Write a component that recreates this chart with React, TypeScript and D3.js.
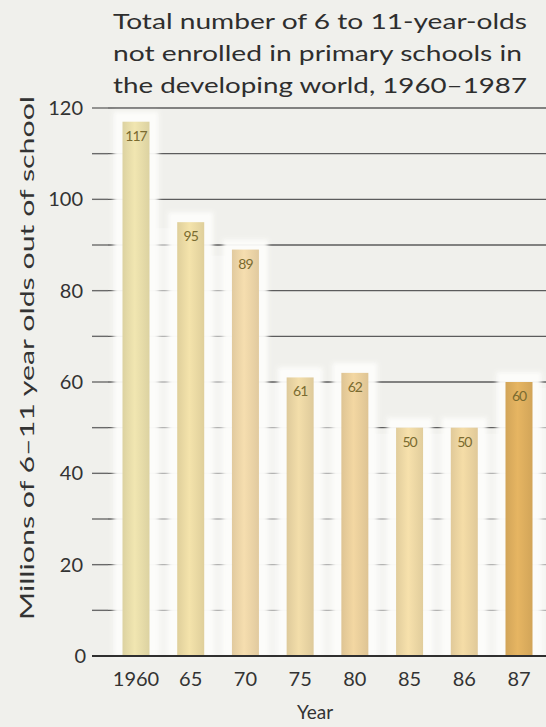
import React from 'react';
import * as d3 from 'd3';

// Children aged 6–11 not enrolled in primary school, developing world (millions)
const years = ['1960', '65', '70', '75', '80', '85', '86', '87'];
const outOfSchool = [117, 95, 89, 61, 62, 50, 50, 60];
const yTicks = [0, 20, 40, 60, 80, 100, 120];
const gridValues = [10, 20, 30, 40, 50, 60, 70, 80, 90, 100, 110, 120];
const barColors = ['#e2d8a6', '#e5d5a0', '#e7d0a4', '#e4d09f', '#e4ca98', '#e8d3a1', '#e6cf9d', '#d8aa5c'];
const titleLines = [
  'Total number of 6 to 11-year-olds',
  'not enrolled in primary schools in',
  'the developing world, 1960\u20131987',
];

const W = 546;
const H = 727;
const FONT = 'Lato, "Noto Sans", sans-serif';

export default function App() {
  const x = d3.scalePoint<string>().domain(years).range([136, 519]);
  const y = d3.scaleLinear().domain([0, 120]).range([656, 108]);
  const barW = 27;
  const halo = 9;
  const step = x.step();

  // pale strip between neighbouring bars, up to the lower of the two tops
  const gaps = years.map((yr, i) => {
    const right = i < years.length - 1 ? outOfSchool[i + 1] : outOfSchool[i];
    return { x: x(yr)! + barW / 2, top: y(Math.min(outOfSchool[i], right)) };
  });

  return (
    <svg
      width={W}
      height={H}
      viewBox={`0 0 ${W} ${H}`}
      style={{ position: 'absolute', left: 0, top: 0, display: 'block' }}
    >
      <defs>
        <filter id="glow" x="-50%" y="-10%" width="200%" height="120%">
          <feGaussianBlur stdDeviation="2.2" />
        </filter>
        {barColors.map((c, i) => {
          const lighter = d3.color(c)!.brighter(0.18).formatHex();
          const darker = d3.color(c)!.darker(0.08).formatHex();
          return (
            <linearGradient key={i} id={`bar${i}`} x1="0" x2="1" y1="0" y2="0">
              <stop offset="0" stopColor={darker} />
              <stop offset="0.45" stopColor={lighter} />
              <stop offset="1" stopColor={darker} />
            </linearGradient>
          );
        })}
      </defs>

      <rect x={0} y={0} width={W} height={H} fill="#f0f0ec" />

      {/* title */}
      {titleLines.map((t, i) => (
        <text
          key={i}
          x={113}
          y={29 + i * 32}
          fontFamily={FONT}
          fontSize={21}
          fill="#2e2e2e"
          textLength={i === 1 ? 409 : 414}
          lengthAdjust="spacingAndGlyphs"
        >
          {t}
        </text>
      ))}

      {/* horizontal rules */}
      {gridValues.map((v) => (
        <line
          key={v}
          x1={108}
          x2={W}
          y1={y(v)}
          y2={y(v)}
          stroke="#5c5c5c"
          strokeWidth={1.4}
        />
      ))}

      {/* lighter strips between bars */}
      {gaps.map((g, i) => (
        <rect
          key={i}
          x={g.x}
          y={g.top + 6}
          width={step - barW}
          height={y(0) - g.top - 7}
          fill="#fafaf7"
          opacity={0.55}
        />
      ))}

      {/* pale halo behind each bar */}
      {years.map((yr, i) => (
        <rect
          key={yr}
          x={x(yr)! - barW / 2 - halo}
          y={y(outOfSchool[i]) - 10}
          width={barW + halo * 2}
          height={y(0) - y(outOfSchool[i]) + 10}
          fill="#fdfdfb"
          opacity={0.95}
          filter="url(#glow)"
        />
      ))}

      {/* left tick marks */}
      {gridValues.concat([0]).map((v) => (
        <line
          key={v}
          x1={92}
          x2={108}
          y1={y(v)}
          y2={y(v)}
          stroke="#6a6a6a"
          strokeWidth={1.4}
        />
      ))}

      {/* bars */}
      {years.map((yr, i) => (
        <rect
          key={yr}
          x={x(yr)! - barW / 2}
          y={y(outOfSchool[i])}
          width={barW}
          height={y(0) - y(outOfSchool[i])}
          fill={`url(#bar${i})`}
        />
      ))}

      {/* value labels */}
      {years.map((yr, i) => (
        <text
          key={yr}
          x={x(yr)!}
          y={y(outOfSchool[i]) + 19}
          textAnchor="middle"
          fontFamily={FONT}
          fontSize={14}
          letterSpacing={-1}
          fill="#7a6b30"
        >
          {outOfSchool[i]}
        </text>
      ))}

      {/* baseline */}
      <line x1={92} x2={W} y1={y(0)} y2={y(0)} stroke="#2f2f2f" strokeWidth={2.2} />

      {/* y tick labels */}
      {yTicks.map((v) => (
        <text
          key={v}
          x={v === 0 ? 86 : 83}
          y={y(v) + 7}
          textAnchor="end"
          fontFamily={FONT}
          fontSize={20}
          fill="#333"
        >
          {v}
        </text>
      ))}

      {/* x tick labels */}
      {years.map((yr) => (
        <text
          key={yr}
          x={x(yr)!}
          y={686}
          textAnchor="middle"
          fontFamily={FONT}
          fontSize={20}
          fill="#333"
        >
          {yr}
        </text>
      ))}

      {/* axis titles */}
      <text
        x={315}
        y={719}
        textAnchor="middle"
        fontFamily={FONT}
        fontSize={19}
        fill="#333"
      >
        Year
      </text>
      <text
        transform={`translate(34, 358) rotate(-90)`}
        textAnchor="middle"
        fontFamily={FONT}
        fontSize={20}
        fill="#333"
        textLength={524}
        lengthAdjust="spacingAndGlyphs"
      >
        Millions of 6–11 year olds out of school
      </text>
    </svg>
  );
}
